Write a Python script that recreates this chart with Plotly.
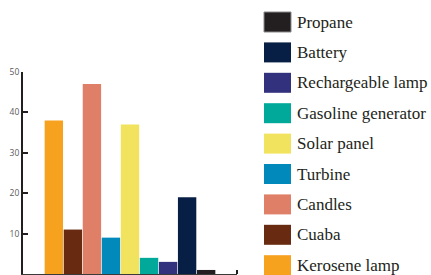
import plotly.graph_objects as go

categories = ["Kerosene lamp", "Cuaba", "Candles", "Turbine", "Solar panel",
              "Gasoline generator", "Rechargeable lamp", "Battery", "Propane"]
values = [38, 11, 47, 9, 37, 4, 3, 19, 1]
colors = ["#F7A21E", "#682B12", "#E07F68", "#0089BA", "#F2E35E",
          "#00A99A", "#32317E", "#071F44", "#231F20"]
y_ticks = [0, 10, 20, 30, 40, 50]

W, H = 431, 275
ML, MR, MT, MB = 23, 194, 72, 1
pw = W - ML - MR
ph = H - MT - MB

fig = go.Figure()
for c, v, col in zip(categories, values, colors):
    fig.add_trace(go.Bar(x=[c], y=[v], name=c, marker=dict(color=col, line=dict(width=0)),
                         width=0.965, showlegend=False, hoverinfo="skip"))

def px_to_paper_x(px):
    return (px - ML) / pw

def px_to_paper_y(py):
    return (H - MB - py) / ph

shapes = []
annotations = []
# legend (reversed order, Propane on top)
for k, (c, col) in enumerate(reversed(list(zip(categories, colors)))):
    cy = 22 + 30.4 * k
    shapes.append(dict(type="rect", xref="paper", yref="paper",
                       x0=px_to_paper_x(264), x1=px_to_paper_x(291),
                       y0=px_to_paper_y(cy + 10), y1=px_to_paper_y(cy - 10),
                       fillcolor=col,
                       line=dict(color="#8a8a8a" if c == "Propane" else col, width=1 if c == "Propane" else 0)))
    annotations.append(dict(xref="paper", yref="paper", x=px_to_paper_x(294.5), y=px_to_paper_y(cy),
                            text=c, showarrow=False, xanchor="left", yanchor="middle",
                            font=dict(family="Liberation Serif, DejaVu Serif, serif", size=17, color="#231F20")))
# end tick on x axis
shapes.append(dict(type="line", xref="paper", yref="paper", x0=1, x1=1,
                   y0=0, y1=px_to_paper_y(270), line=dict(color="#231F20", width=2)))

fig.update_layout(
    width=W, height=H,
    margin=dict(l=ML, r=MR, t=MT, b=MB, pad=0, autoexpand=False),
    paper_bgcolor="white", plot_bgcolor="white",
    barmode="overlay",
    showlegend=False,
    shapes=shapes, annotations=annotations,
    xaxis=dict(range=[-1.62, 9.62], showticklabels=False, ticks="", showgrid=False,
               zeroline=False, showline=True, linecolor="#3a3a3a", linewidth=1.5, automargin=False,
               categoryorder="array", categoryarray=categories),
    yaxis=dict(range=[0, 50], tickvals=y_ticks, ticks="inside", ticklen=5, tickwidth=2,
               tickcolor="#231F20", showgrid=False, zeroline=False, showline=True,
               linecolor="#231F20", linewidth=2, automargin=False,
               tickfont=dict(family="Open Sans, DejaVu Sans, sans-serif", size=8.5, color="#5a5a5a")),
)

fig.write_html("out.html", config={"displayModeBar": False},
               post_script="document.body.style.margin='0';document.body.style.overflow='hidden';")
